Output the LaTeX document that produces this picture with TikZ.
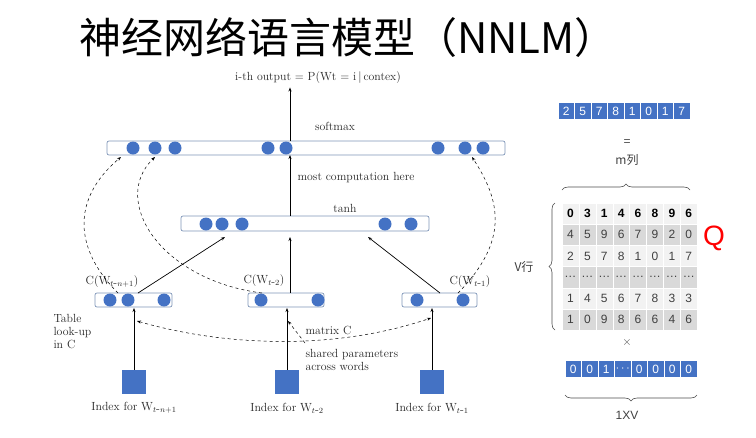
\documentclass[tikz,border=0pt]{standalone}
\usepackage{fontspec}
\newfontfamily\cjk{Noto Sans CJK SC}
\newfontfamily\sans{Liberation Sans}
\usetikzlibrary{decorations.pathreplacing,arrows.meta}
\definecolor{nb}{HTML}{4472C4}
\definecolor{bar}{HTML}{7F96B8}
\begin{document}
\begin{tikzpicture}[x=1pt,y=-1pt,
  barS/.style={draw=bar,rounded corners=2pt,fill=white,line width=0.7pt},
  dot/.style={circle,fill=nb,minimum size=13pt,inner sep=0pt},
  sq/.style={fill=nb,minimum size=24pt,inner sep=0pt},
  lab/.style={font=\fontsize{11.8}{13}\selectfont,text=black!85},
  arr/.style={-{Stealth[length=4pt]},line width=0.7pt},
  dsh/.style={dashed,-{Stealth[length=4pt]},line width=0.5pt},
  rf/.style={font=\sans\fontsize{12}{13}\selectfont},
  cell/.style={rf,minimum width=16.5pt,minimum height=17pt,inner sep=0pt,fill=nb,draw=white,text=white},
  mc/.style={rf,minimum width=16.9pt,minimum height=21.2pt,inner sep=0pt,draw=white,text=black!75},
  brc/.style={decorate,decoration={brace,amplitude=6pt},line width=0.6pt,draw=black!70}]
\useasboundingbox (0,0) rectangle (756,437);
\node[font=\cjk\fontsize{42}{44}\selectfont] (title) at (348,38) {神经网络语言模型（NNLM）};
\node[lab] (out) at (318,78) {i-th output = P(Wt = i\,|\,contex)};
% softmax bar
\draw[barS] (107,141) rectangle (505,155);
\coordinate (sb) at (290,155); \coordinate (st) at (290,141);
\foreach \x in {133,155,175,268,286,438,465,483} \node[dot] at (\x,148) {};
\node[lab] (smx) at (335,126) {softmax};
\draw[arr] (st) -- (out.south -| st);
% tanh bar
\draw[barS] (181,216) rectangle (429,231);
\foreach \x in {206,222,242,385,411} \node[dot] at (\x,224) {};
\node[lab] (th) at (345,208) {tanh};
\node[lab,anchor=west] (mch) at (294,178) {most computation here};
\draw[arr] (290,216) -- (sb);
% lower bars
\draw[barS] (95,293) rectangle (172,307);
\draw[barS] (248,293) rectangle (324,307);
\draw[barS] (402,293) rectangle (477,307);
\foreach \x in {110,128,164,261,318,417,463} \node[dot] at (\x,300) {};
\node[lab] (c1) at (112,282) {C(W$_{t\mbox{-}n+1}$)};
\node[lab] (c2) at (264,281) {C(W$_{t\mbox{-}2}$)};
\node[lab] (c3) at (470,282) {C(W$_{t\mbox{-}1}$)};
\draw[arr] (138,293) -- (225,237);
\draw[arr] (290,293) -- (290,237);
\draw[arr] (440,293) -- (368,237);
% dashed curves
\draw[dsh] (118,293) .. controls (75,250) and (70,200) .. (121,157);
\draw[dsh] (262,293) .. controls (160,280) and (110,200) .. (155,157);
\draw[dsh] (458,293) .. controls (510,240) and (500,200) .. (472,157);
% squares
\node[sq] (s1) at (134,382) {};
\node[sq] (s2) at (287,382) {};
\node[sq] (s3) at (432,382) {};
\draw[arr] (s1.north) -- (134,308);
\draw[arr] (s2.north) -- (287,308);
\draw[arr] (s3.north) -- (432,308);
\node[lab] (i1) at (134,408) {Index for W$_{t\mbox{-}n+1}$};
\node[lab] (i2) at (287,408) {Index for W$_{t\mbox{-}2}$};
\node[lab] (i3) at (432,408) {Index for W$_{t\mbox{-}1}$};
\draw[dsh,{Stealth[length=4pt]}-{Stealth[length=4pt]}] (137,321) .. controls (220,345) and (330,352) .. (431,318);
\draw[dsh] (305,343) -- (288,321);
\node[lab,anchor=west] (mc) at (302,330) {matrix C};
\node[lab,anchor=west,align=left] (sp) at (302,360) {shared parameters\\across words};
\node[lab,anchor=west,align=left] (tl) at (50,332) {Table\\look-up\\in C};
% right side
\foreach \v [count=\i] in {2,5,7,8,1,0,1,7} \node[cell] at (558+16.5*\i-8.25,111) {\v};
\node[rf,text=black!70] (eq) at (627,143) {=};
\node[font=\cjk\fontsize{12}{13}\selectfont,text=black!75] (mcol) at (627,160) {m列};
\draw[brc] (562,190) -- (690,190);
\foreach \row [count=\r] in {{0,3,1,4,6,8,9,6},{4,5,9,6,7,9,2,0},{2,5,7,8,1,0,1,7},{\dots,\dots,\dots,\dots,\dots,\dots,\dots,\dots},{1,4,5,6,7,8,3,3},{1,0,9,8,6,6,4,6}}{
  \pgfmathsetmacro{\yy}{203+21.2*\r-10.6}
  \ifodd\r \def\cc{black!5}\else\def\cc{black!15}\fi
  \foreach \v [count=\c] in \row {
    \node[mc,fill=\cc] at (562+16.9*\c-8.45,\yy) {\ifnum\r=1 \bfseries\color{black}\fi\v};
  }
}
\node[font=\sans\fontsize{28}{28}\selectfont,text=red] (Q) at (714,238) {Q};
\draw[brc] (555,330) -- (555,203);
\node[font=\cjk\fontsize{12}{13}\selectfont,text=black!75] (vrow) at (524,267) {V行};
\node[rf,text=black!70] (x) at (627,342) {$\times$};
\foreach \v [count=\i] in {0,0,1,$\cdots$,0,0,0,0} \node[cell] at (565+16.5*\i-8.25,369) {\v};
\draw[brc] (697,395) -- (565,395);
\node[rf,text=black!75] (dim) at (627,415) {1XV};
\end{tikzpicture}
\end{document}
